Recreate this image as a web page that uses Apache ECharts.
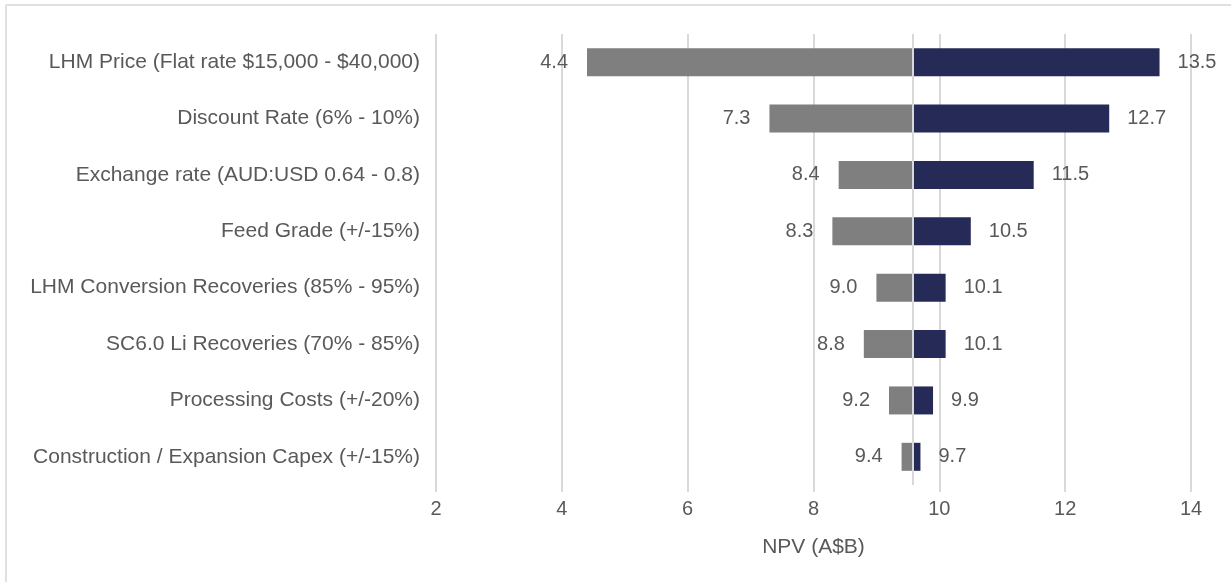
<!DOCTYPE html>
<html>
<head>
<meta charset="utf-8">
<script src="https://cdn.jsdelivr.net/npm/echarts@6/dist/echarts.min.js"></script>
<style>
  html, body { margin: 0; padding: 0; background: #fff; }
  #chart { width: 1231px; height: 582px; }
</style>
</head>
<body>
<div id="chart"></div>
<script>
// sensitivity drivers, top to bottom
var categories = [
  'LHM Price (Flat rate $15,000 - $40,000)',
  'Discount Rate (6% - 10%)',
  'Exchange rate (AUD:USD 0.64 - 0.8)',
  'Feed Grade (+/-15%)',
  'LHM Conversion Recoveries (85% - 95%)',
  'SC6.0 Li Recoveries (70% - 85%)',
  'Processing Costs (+/-20%)',
  'Construction / Expansion Capex (+/-15%)'
];
var lowValues = [4.4, 7.3, 8.4, 8.3, 9.0, 8.8, 9.2, 9.4];
var highValues = [13.5, 12.7, 11.5, 10.5, 10.1, 10.1, 9.9, 9.7];
var baseNpv = 9.57;
var xTicks = [2, 4, 6, 8, 10, 12, 14];

var chart = echarts.init(document.getElementById('chart'));

var font = 'Liberation Sans, Arial, sans-serif';
var txt = '#595959';
var fs = 20;

chart.setOption({
  animation: false,
  graphic: [
    { type: 'line', shape: { x1: 6, y1: 5, x2: 6, y2: 582 }, style: { stroke: '#e0e0e0', lineWidth: 2 } },
    { type: 'line', shape: { x1: 6, y1: 5, x2: 1231, y2: 5 }, style: { stroke: '#e0e0e0', lineWidth: 2 } }
  ],
  grid: { left: 436, right: 40, top: 34, bottom: 97 },
  xAxis: {
    type: 'value',
    min: xTicks[0],
    max: xTicks[xTicks.length - 1],
    interval: 2,
    name: 'NPV (A$B)',
    nameLocation: 'middle',
    nameGap: 52,
    nameTextStyle: { color: txt, fontSize: 21, fontFamily: font },
    axisLine: { show: false },
    axisTick: { show: true, length: 7, lineStyle: { color: '#d9d9d9', width: 2 } },
    axisLabel: { color: txt, fontSize: fs, fontFamily: font, margin: 14 },
    splitLine: { show: true, lineStyle: { color: '#d9d9d9', width: 2 } }
  },
  yAxis: {
    type: 'category',
    inverse: true,
    data: categories,
    axisLine: { show: false },
    axisTick: { show: false },
    axisLabel: { color: txt, fontSize: 21, fontFamily: font, margin: 16 }
  },
  series: [
    {
      type: 'bar',
      stack: 't',
      silent: true,
      itemStyle: { color: 'transparent' },
      data: lowValues,
      barWidth: 28
    },
    {
      type: 'bar',
      stack: 't',
      itemStyle: { color: '#7f7f7f' },
      data: lowValues.map(function (v) { return +(baseNpv - v).toFixed(3); }),
      label: {
        show: true,
        position: 'left',
        distance: 19,
        color: txt,
        fontSize: fs,
        fontFamily: font,
        formatter: function (p) { return lowValues[p.dataIndex].toFixed(1); }
      },
      markLine: {
        silent: true,
        symbol: 'none',
        label: { show: false },
        lineStyle: { color: '#d9d9d9', width: 2, type: 'solid' },
        data: [{ xAxis: baseNpv }]
      }
    },
    {
      type: 'bar',
      stack: 't',
      itemStyle: { color: '#262a56' },
      data: highValues.map(function (v) { return +(v - baseNpv).toFixed(3); }),
      label: {
        show: true,
        position: 'right',
        distance: 18,
        color: txt,
        fontSize: fs,
        fontFamily: font,
        formatter: function (p) { return highValues[p.dataIndex].toFixed(1); }
      }
    }
  ]
});
</script>
</body>
</html>
